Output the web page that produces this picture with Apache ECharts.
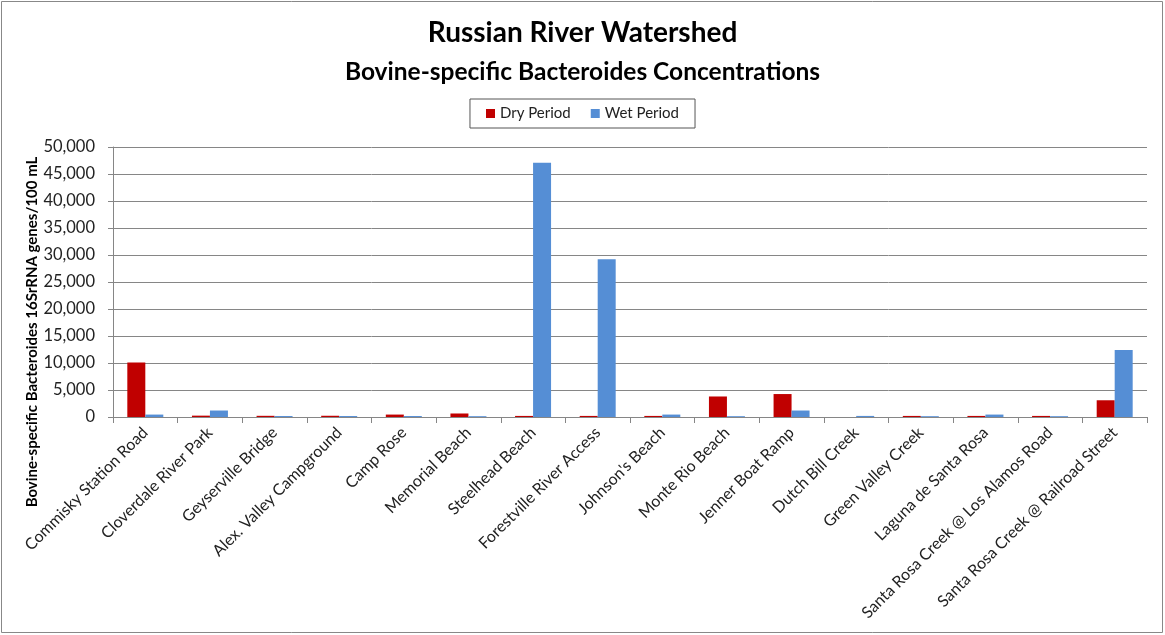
<!DOCTYPE html>
<html>
<head>
<meta charset="utf-8">
<script src="https://cdn.jsdelivr.net/npm/echarts@6/dist/echarts.min.js"></script>
<style>
  html, body { margin: 0; padding: 0; background: #fff; }
  #chart { width: 1165px; height: 635px; }
</style>
</head>
<body>
<div id="chart"></div>
<script>
// Sampling sites along the Russian River watershed
const sites = [
  'Commisky Station Road', 'Cloverdale River Park', 'Geyserville Bridge',
  'Alex. Valley Campground', 'Camp Rose', 'Memorial Beach', 'Steelhead Beach',
  'Forestville River Access', "Johnson's Beach", 'Monte Rio Beach',
  'Jenner Boat Ramp', 'Dutch Bill Creek', 'Green Valley Creek',
  'Laguna de Santa Rosa', 'Santa Rosa Creek @ Los Alamos Road',
  'Santa Rosa Creek @ Railroad Street'
];

// Bovine-specific Bacteroides, 16SrRNA genes per 100 mL
const dryPeriod = [10100, 250, 220, 230, 450, 650, 200, 200, 200, 3800, 4250, 0, 200, 200, 200, 3100];
const wetPeriod = [450, 1200, 180, 180, 180, 150, 47100, 29200, 450, 150, 1200, 200, 150, 450, 150, 12400];

const yTicks = { min: 0, max: 50000, interval: 5000 };

const FONT = 'Lato, "Open Sans", sans-serif';
const chart = echarts.init(document.getElementById('chart'));

chart.setOption({
  backgroundColor: '#fff',
  animation: false,
  title: [
    {
      text: 'Russian River Watershed',
      left: 'center', top: 14,
      textStyle: { fontFamily: FONT, fontSize: 28, fontWeight: 'bold', color: '#000' }
    },
    {
      text: 'Bovine-specific Bacteroides Concentrations',
      left: 'center', top: 55,
      textStyle: { fontFamily: FONT, fontSize: 24.5, fontWeight: 'bold', color: '#000' }
    }
  ],
  legend: {
    top: 99, left: 'center',
    data: ['Dry Period', 'Wet Period'],
    icon: 'rect', itemWidth: 9, itemHeight: 9, itemGap: 20,
    padding: [7, 16, 7, 16],
    borderColor: '#555', borderWidth: 1,
    textStyle: { fontFamily: FONT, fontSize: 15, color: '#222' }
  },
  grid: { left: 113, right: 18, top: 147, bottom: 218, containLabel: false },
  xAxis: {
    type: 'category',
    data: sites,
    axisLine: { lineStyle: { color: '#868686' } },
    axisTick: { show: true, length: 6, lineStyle: { color: '#868686' } },
    axisLabel: {
      rotate: 45, interval: 0, margin: 13,
      fontFamily: FONT, fontSize: 16, color: '#222'
    }
  },
  yAxis: {
    type: 'value',
    min: yTicks.min, max: yTicks.max, interval: yTicks.interval,
    name: 'Bovine-specific Bacteroides 16SrRNA genes/100 mL',
    nameLocation: 'middle', nameGap: 73, nameRotate: 90,
    nameMoveOverlap: false,
    nameTextStyle: {
      fontFamily: FONT, fontSize: 15, fontWeight: 'bold', color: '#000',
      padding: [0, 100, 0, 0]
    },
    axisLine: { show: true, lineStyle: { color: '#868686' } },
    axisTick: { show: true, length: 5, lineStyle: { color: '#868686' } },
    splitLine: { lineStyle: { color: '#868686' } },
    axisLabel: {
      margin: 18, fontFamily: FONT, fontSize: 16.5, color: '#222',
      formatter: v => v.toLocaleString('en-US')
    }
  },
  series: [
    {
      name: 'Dry Period', type: 'bar', data: dryPeriod,
      barWidth: 18, barGap: '0%',
      itemStyle: { color: '#C00000' }
    },
    {
      name: 'Wet Period', type: 'bar', data: wetPeriod,
      barWidth: 18, barGap: '0%',
      itemStyle: { color: '#558ED5' }
    }
  ],
  graphic: [
    {
      type: 'rect', silent: true, z: -1,
      shape: { x: 1.5, y: 1.5, width: 1161, height: 631 },
      style: { fill: 'none', stroke: '#888', lineWidth: 1 }
    }
  ]
});
</script>
</body>
</html>
